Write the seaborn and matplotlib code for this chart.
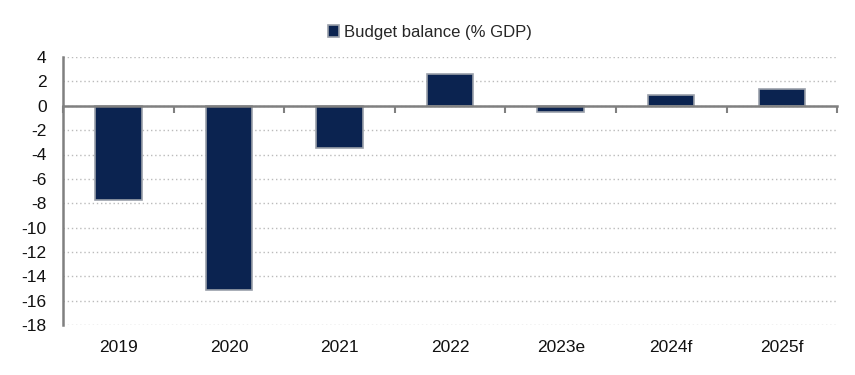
import matplotlib
matplotlib.use("Agg")
import matplotlib.pyplot as plt
import seaborn as sns
import pandas as pd
import numpy as np

categories = ["2019", "2020", "2021", "2022", "2023e", "2024f", "2025f"]
values = [-7.7, -15.1, -3.5, 2.6, -0.5, 0.9, 1.4]
series_name = "Budget balance (% GDP)"
yticks = list(range(-18, 5, 2))

sns.set_theme(style="white")
plt.rcParams["font.family"] = ["Liberation Sans", "DejaVu Sans"]

df = pd.DataFrame({"year": categories, "value": values, "series": series_name})

fig = plt.figure(figsize=(8.55, 3.75), dpi=100)
ax = fig.add_axes([0.074, 0.133, 0.905, 0.715])

sns.barplot(data=df, x="year", y="value", hue="series", palette=["#001F5B"],
            width=0.42, edgecolor="#9AA0AA", linewidth=1.2, ax=ax, zorder=3)

ax.set_ylim(-18, 4)
ax.set_xlim(-0.5, len(categories) - 0.5)
ax.set_yticks(yticks)
ax.set_yticklabels([str(t) for t in yticks], fontsize=12.5, color="#111111")
ax.set_xlabel("")
ax.set_ylabel("")
ax.tick_params(axis="x", length=0, labelsize=12.5, colors="#111111", pad=11)
ax.tick_params(axis="y", length=5, width=1.5, color="#808080", direction="out", pad=7)

ax.yaxis.grid(True, linestyle=(0, (1, 2)), color="#BBBBBB", linewidth=1, zorder=0)
ax.xaxis.grid(False)
for s in ["top", "right", "bottom"]:
    ax.spines[s].set_visible(False)
ax.spines["left"].set_color("#808080")
ax.spines["left"].set_linewidth(1.8)

# zero axis with category boundary ticks
y0, y1 = ax.get_ylim()
loc = (0 - y0) / (y1 - y0)
sec = ax.secondary_xaxis(loc)
sec.set_xticks(np.arange(-0.5, len(categories), 1.0))
sec.set_xticklabels([])
sec.tick_params(axis="x", direction="in", length=5, width=1.5, color="#808080")
for sp in sec.spines.values():
    sp.set_color("#808080")
    sp.set_linewidth(1.8)
sec.set_zorder(4)

leg = ax.legend(loc="lower center", bbox_to_anchor=(0.474, 1.04), frameon=False,
                fontsize=12, handlelength=0.7, handleheight=0.7, handletextpad=0.3,
                borderaxespad=0)
for h in leg.legend_handles:
    h.set_edgecolor("#9AA0AA")

fig.savefig("out.png", dpi=100)
